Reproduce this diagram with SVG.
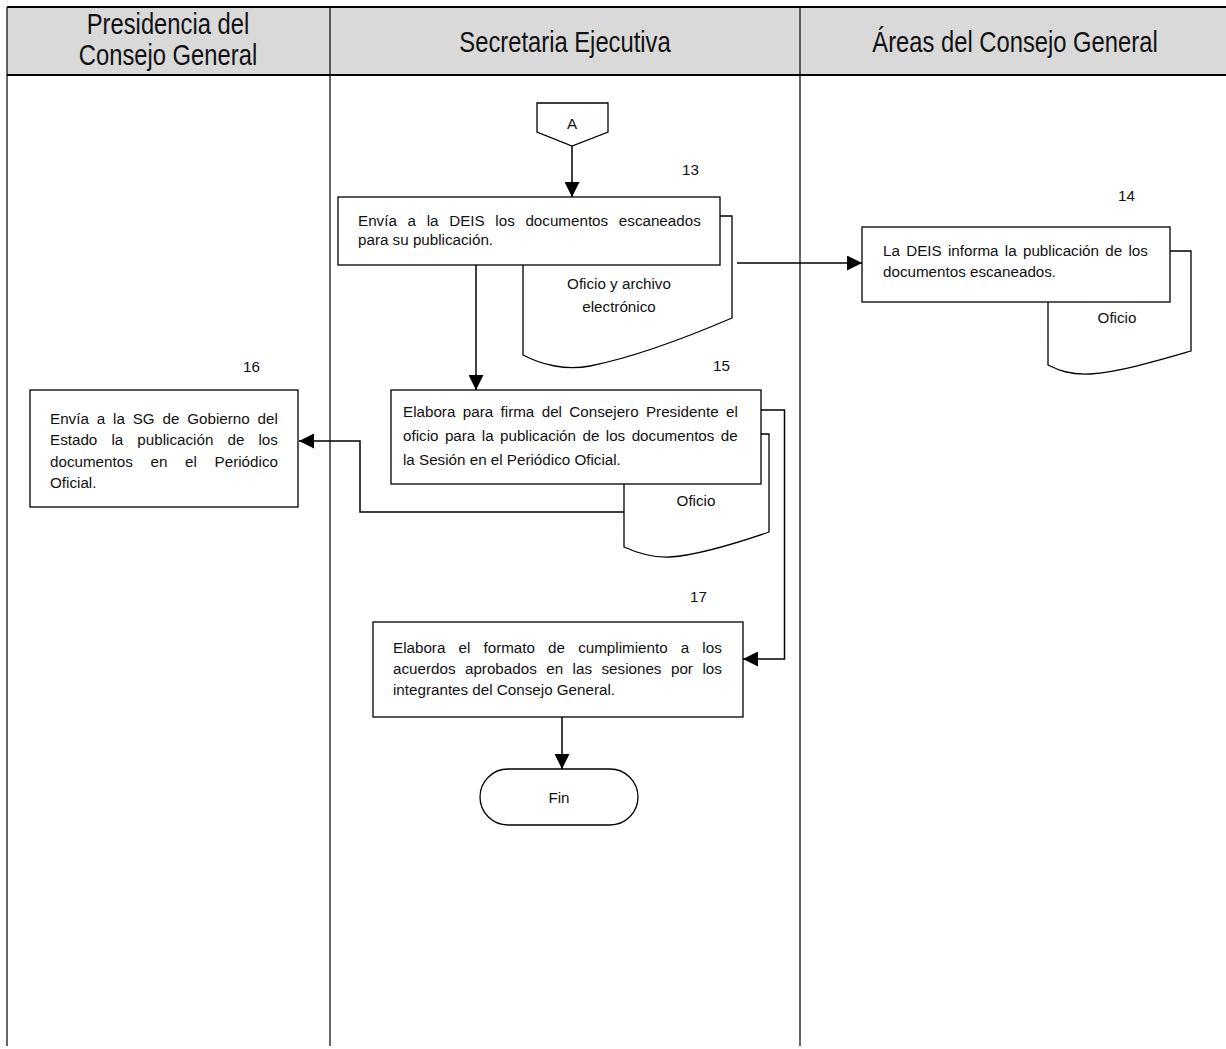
<svg xmlns="http://www.w3.org/2000/svg" width="1226" height="1049" viewBox="0 0 1226 1049">
<style>
.lane{stroke:#000;stroke-width:1.2;fill:none}
.hdr{fill:#d9d9d9;stroke:none}
.hline{stroke:#000;stroke-width:1.8;fill:none}
.box{fill:#fff;stroke:#000;stroke-width:1.3}
.conn{fill:none;stroke:#000;stroke-width:1.5}
.ht{font-family:"Liberation Sans",Arial,sans-serif;font-size:29px;fill:#111;text-anchor:middle}
.t{font-family:"Liberation Sans",Arial,sans-serif;font-size:15.2px;fill:#111}
.c{text-anchor:middle}
</style>
<defs>
<marker id="arr" viewBox="0 0 15 15" refX="15" refY="7.5" markerWidth="15" markerHeight="15" orient="auto" markerUnits="userSpaceOnUse">
<path d="M0,0 L15,7.5 L0,15 z" fill="#000"/>
</marker>
</defs>
<rect width="1226" height="1049" fill="#fff"/>
<g id="lanes">
<rect class="hdr" x="7" y="7" width="1219" height="68"/>
<line class="hline" x1="7" y1="7" x2="1226" y2="7"/>
<line class="hline" x1="7" y1="75" x2="1226" y2="75"/>
<line class="lane" x1="7" y1="7" x2="7" y2="1046"/>
<line class="lane" x1="330" y1="7" x2="330" y2="1046"/>
<line class="lane" x1="800" y1="7" x2="800" y2="1046"/>
<g transform="translate(168,0) scale(0.82,1)"><text class="ht" x="0" y="34">Presidencia del</text><text class="ht" x="0" y="65">Consejo General</text></g>
<g transform="translate(565,0) scale(0.82,1)"><text class="ht" x="0" y="52">Secretaria Ejecutiva</text></g>
<g transform="translate(1015,0) scale(0.82,1)"><text class="ht" x="0" y="52">Áreas del Consejo General</text></g>
</g>
<g id="connectors">
<path class="conn" d="M572,146 V197" marker-end="url(#arr)"/>
<path class="conn" d="M476,265 V390" marker-end="url(#arr)"/>
<path class="conn" d="M737,263 H862" marker-end="url(#arr)"/>
<path class="conn" d="M640,512 H360 V441 H299" marker-end="url(#arr)"/>
<path class="conn" d="M761,410 H784.5 V659 H743" marker-end="url(#arr)"/>
<path class="conn" d="M562,717 V769" marker-end="url(#arr)"/>
</g>
<g id="nodeA">
<path class="box" d="M537,103 H608 V132 L572,146 L537,132 Z"/>
<text class="t c" x="572" y="129">A</text>
</g>
<g id="doc13">
<path class="box" d="M523,216 H732 V318 C690,336 640,356 590,366 C565,371 540,364 523,355 Z"/>
<text class="t c" x="619" y="289">Oficio y archivo</text>
<text class="t c" x="619" y="312">electrónico</text>
</g>
<g id="node13">
<rect class="box" x="338" y="197" width="382" height="68"/>
<text class="t" x="358" y="226" word-spacing="6.47">Envía a la DEIS los documentos escaneados</text>
<text class="t" x="358" y="245">para su publicación.</text>
<text class="t" x="682" y="175">13</text>
</g>
<g id="doc14">
<path class="box" d="M1048,251 H1191 V351 C1160,360 1120,372 1090,374 C1070,375 1058,370 1048,365 Z"/>
<text class="t c" x="1117" y="323">Oficio</text>
</g>
<g id="node14">
<rect class="box" x="862" y="227" width="308" height="75"/>
<text class="t" x="883" y="256" word-spacing="2.07">La DEIS informa la publicación de los</text>
<text class="t" x="883" y="277">documentos escaneados.</text>
<text class="t" x="1118" y="201">14</text>
</g>
<g id="doc15">
<path class="box" d="M624,434 H769 V532 C740,542 700,555 670,557 C650,558 635,552 624,547 Z"/>
<text class="t c" x="696" y="506">Oficio</text>
</g>
<g id="node15">
<rect class="box" x="391" y="390" width="370" height="94"/>
<text class="t" x="403" y="417" word-spacing="3.18">Elabora para firma del Consejero Presidente el</text>
<text class="t" x="403" y="441" word-spacing="2.23">oficio para la publicación de los documentos de</text>
<text class="t" x="403" y="465">la Sesión en el Periódico Oficial.</text>
<text class="t" x="713" y="371">15</text>
</g>
<g id="node16">
<rect class="box" x="30" y="390" width="268" height="117"/>
<text class="t" x="50" y="424" word-spacing="3.64">Envía a la SG de Gobierno del</text>
<text class="t" x="50" y="445" word-spacing="9.9">Estado la publicación de los</text>
<text class="t" x="50" y="466.5" word-spacing="13.5">documentos en el Periódico</text>
<text class="t" x="50" y="488">Oficial.</text>
<text class="t" x="243" y="372">16</text>
</g>
<g id="node17">
<rect class="box" x="373" y="622" width="370" height="95"/>
<text class="t" x="393" y="652.5" word-spacing="8.93">Elabora el formato de cumplimiento a los</text>
<text class="t" x="393" y="674" word-spacing="5.27">acuerdos aprobados en las sesiones por los</text>
<text class="t" x="393" y="695">integrantes del Consejo General.</text>
<text class="t" x="690" y="602">17</text>
</g>
<g id="nodeFin">
<rect class="box" x="480" y="769" width="158" height="56" rx="28" ry="28"/>
<text class="t c" x="559" y="803">Fin</text>
</g>
</svg>
